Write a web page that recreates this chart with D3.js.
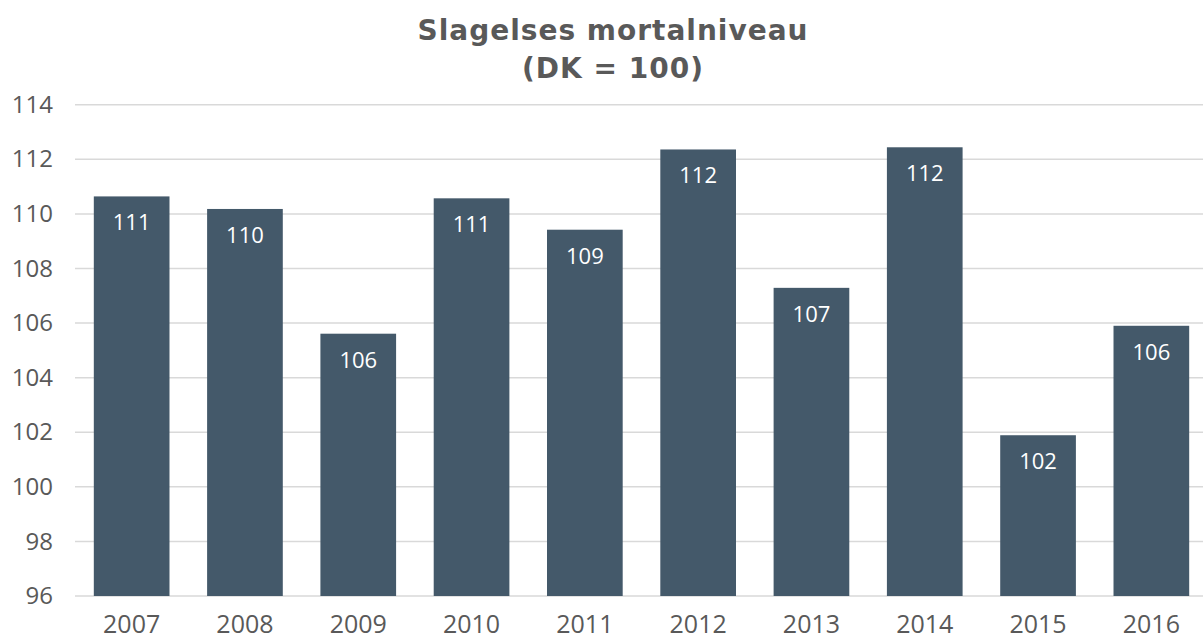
<!DOCTYPE html>
<html lang="da">
<head>
<meta charset="utf-8">
<title>Slagelses mortalniveau</title>
<script src="https://cdn.jsdelivr.net/npm/d3@7/dist/d3.min.js"></script>
<style>
  body { margin: 0; background: #fff; }
  svg { display: block; }
</style>
</head>
<body>
<svg width="1203" height="639"></svg>
<script>
// data
var years = ["2007", "2008", "2009", "2010", "2011", "2012", "2013", "2014", "2015", "2016"];
var values = [110.64, 110.18, 105.61, 110.57, 109.42, 112.36, 107.29, 112.44, 101.89, 105.9];
var yTicks = [96, 98, 100, 102, 104, 106, 108, 110, 112, 114];
var titleLines = ["Slagelses mortalniveau", "(DK = 100)"];

var svg = d3.select("svg"),
    plotTop = 104.7, plotBottom = 596, plotLeft = 75, plotRight = 1208;

var x = d3.scaleBand().domain(years).range([plotLeft, plotRight]).paddingInner(0.332).paddingOuter(0.166);
var y = d3.scaleLinear().domain([96, 114]).range([plotBottom, plotTop]);

// gridlines
svg.append("g")
    .selectAll("line")
    .data(yTicks)
    .enter().append("line")
    .attr("x1", plotLeft).attr("x2", 1203)
    .attr("y1", function(d) { return y(d); })
    .attr("y2", function(d) { return y(d); })
    .attr("stroke", "#d9d9d9")
    .attr("stroke-width", 1.5);

// y axis labels
var yAxis = svg.append("g")
    .attr("transform", "translate(" + (plotLeft - 22) + ",0)")
    .call(d3.axisLeft(y).tickValues(yTicks).tickSize(0).tickPadding(0));
yAxis.select(".domain").remove();
yAxis.selectAll("text")
    .attr("fill", "#595959")
    .attr("font-family", "'Open Sans', sans-serif")
    .attr("font-size", 24);

// bars
svg.append("g")
    .selectAll("rect")
    .data(values)
    .enter().append("rect")
    .attr("x", function(d, i) { return x(years[i]); })
    .attr("y", function(d) { return y(d); })
    .attr("width", x.bandwidth())
    .attr("height", function(d) { return plotBottom - y(d); })
    .attr("fill", "#44596a");

// value labels
svg.append("g")
    .selectAll("text")
    .data(values)
    .enter().append("text")
    .attr("x", function(d, i) { return x(years[i]) + x.bandwidth() / 2; })
    .attr("y", function(d) { return y(d) + 34; })
    .attr("text-anchor", "middle")
    .attr("fill", "#ffffff")
    .attr("font-family", "'Open Sans', sans-serif")
    .attr("font-size", 22)
    .text(function(d) { return Math.round(d); });

// x axis labels
var xAxis = svg.append("g")
    .attr("transform", "translate(0," + (plotBottom + 19) + ")")
    .call(d3.axisBottom(x).tickSize(0).tickPadding(0));
xAxis.select(".domain").remove();
xAxis.selectAll("text")
    .attr("fill", "#595959")
    .attr("font-family", "'Open Sans', sans-serif")
    .attr("font-size", 25);

// title
svg.append("g")
    .selectAll("text")
    .data(titleLines)
    .enter().append("text")
    .attr("x", 613)
    .attr("y", function(d, i) { return 40 + i * 38; })
    .attr("text-anchor", "middle")
    .attr("fill", "#595959")
    .attr("font-family", "'DejaVu Sans', Verdana, sans-serif")
    .attr("font-weight", "bold")
    .attr("font-size", 28)
    .attr("letter-spacing", 1)
    .text(function(d) { return d; });
</script>
</body>
</html>
